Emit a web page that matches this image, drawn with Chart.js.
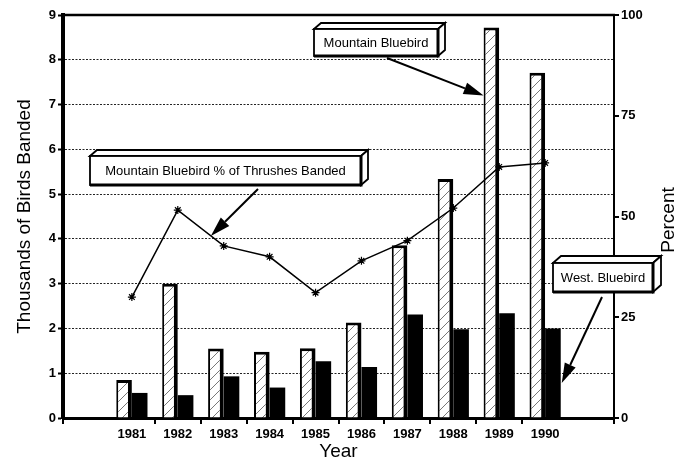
<!DOCTYPE html>
<html>
<head>
<meta charset="utf-8">
<script src="https://cdn.jsdelivr.net/npm/chart.js@4.4.1/dist/chart.umd.min.js"></script>
<style>
  html, body { margin: 0; padding: 0; background: #fff; }
  #wrap { width: 684px; height: 461px; }
</style>
</head>
<body>
<div id="wrap"><canvas id="birdChart" width="684" height="461"></canvas></div>
<script>
// categories (empty slot at each end, as in the original plot)
const years = ["", "1981", "1982", "1983", "1984", "1985", "1986", "1987", "1988", "1989", "1990", ""];

// thousands of birds banded
const mountainBluebird = [null, 0.85, 3.0, 1.55, 1.48, 1.56, 2.13, 3.86, 5.34, 8.72, 7.71, null];
const westernBluebird = [null, 0.56, 0.51, 0.93, 0.68, 1.27, 1.14, 2.31, 1.98, 2.34, 2.0, null];

// mountain bluebird as % of thrushes banded (right axis)
const percentThrushes = [null, 30.0, 51.6, 42.7, 40.0, 31.1, 39.0, 44.0, 52.1, 62.3, 63.3, null];

const leftMax = 9;
const rightTicks = [0, 25, 50, 75, 100];

const FONT = "'Liberation Sans', Arial, Helvetica, sans-serif";
const canvas = document.getElementById("birdChart");
const mainCtx = canvas.getContext("2d");

// diagonal hatch used for the mountain bluebird bars
function makeHatch() {
  const n = 10;
  const tile = document.createElement("canvas");
  tile.width = n;
  tile.height = n;
  const g = tile.getContext("2d");
  g.fillStyle = "#fff";
  g.fillRect(0, 0, n, n);
  g.strokeStyle = "#555";
  g.lineWidth = 0.8;
  g.beginPath();
  g.moveTo(-1, n + 1);
  g.lineTo(n + 1, -1);
  g.moveTo(-n / 2 - 1, n / 2 + 1);
  g.lineTo(n / 2 + 1, -n / 2 - 1);
  g.moveTo(n / 2 - 1, n * 1.5 + 1);
  g.lineTo(n * 1.5 + 1, n / 2 - 1);
  g.stroke();
  return mainCtx.createPattern(tile, "repeat");
}

function drawBox(ctx, x, y, w, h, d, text) {
  ctx.save();
  ctx.strokeStyle = "#000";
  ctx.fillStyle = "#fff";
  ctx.lineWidth = 1.8;
  // top face
  ctx.beginPath();
  ctx.moveTo(x, y);
  ctx.lineTo(x + d, y - d + 1);
  ctx.lineTo(x + w + d, y - d + 1);
  ctx.lineTo(x + w, y);
  ctx.closePath();
  ctx.fill();
  ctx.stroke();
  // side face
  ctx.beginPath();
  ctx.moveTo(x + w, y);
  ctx.lineTo(x + w + d, y - d + 1);
  ctx.lineTo(x + w + d, y + h - d + 1);
  ctx.lineTo(x + w, y + h);
  ctx.closePath();
  ctx.fill();
  ctx.stroke();
  // front
  ctx.fillRect(x, y, w, h);
  ctx.strokeRect(x, y, w, h);
  ctx.lineWidth = 3;
  ctx.beginPath();
  ctx.moveTo(x, y + h);
  ctx.lineTo(x + w, y + h);
  ctx.lineTo(x + w, y);
  ctx.stroke();

  ctx.fillStyle = "#000";
  ctx.font = "13px " + FONT;
  ctx.textAlign = "center";
  ctx.textBaseline = "middle";
  ctx.fillText(text, x + w / 2, y + h / 2 + 1);
  ctx.restore();
}

function drawArrow(ctx, x1, y1, x2, y2) {
  const ang = Math.atan2(y2 - y1, x2 - x1);
  const len = 20, half = 6;
  const bx = x2 - len * Math.cos(ang);
  const by = y2 - len * Math.sin(ang);
  ctx.save();
  ctx.strokeStyle = "#000";
  ctx.fillStyle = "#000";
  ctx.lineWidth = 2;
  ctx.beginPath();
  ctx.moveTo(x1, y1);
  ctx.lineTo(bx, by);
  ctx.stroke();
  ctx.beginPath();
  ctx.moveTo(x2, y2);
  ctx.lineTo(bx + half * Math.sin(ang), by - half * Math.cos(ang));
  ctx.lineTo(bx - half * Math.sin(ang), by + half * Math.cos(ang));
  ctx.closePath();
  ctx.fill();
  ctx.restore();
}

const calloutPlugin = {
  id: "callouts",
  afterDatasetsDraw(chart) {
    const { ctx, chartArea, scales } = chart;

    // top frame line
    ctx.save();
    ctx.strokeStyle = "#000";
    ctx.lineWidth = 2.5;
    ctx.beginPath();
    ctx.moveTo(chartArea.left, chartArea.top);
    ctx.lineTo(chartArea.right + 1, chartArea.top);
    ctx.stroke();
    ctx.restore();

    const lineMeta = chart.getDatasetMeta(0);
    const mbMeta = chart.getDatasetMeta(1);
    const wbMeta = chart.getDatasetMeta(2);

    // Mountain Bluebird -> left edge of 1989 bar
    const b89 = mbMeta.data[9];
    drawArrow(ctx, 387, 58, b89.x - b89.width / 2, scales.y.getPixelForValue(7.2));
    drawBox(ctx, 314, 29, 124, 27, 7, "Mountain Bluebird");

    // percent callout -> line segment 1982-1983
    const p1 = lineMeta.data[2], p2 = lineMeta.data[3];
    const t = 0.72;
    drawArrow(ctx, 258, 189, p1.x + (p2.x - p1.x) * t, p1.y + (p2.y - p1.y) * t);
    drawBox(ctx, 90, 156, 271, 29, 7, "Mountain Bluebird % of Thrushes Banded");

    // West. Bluebird -> 1990 black bar
    const w90 = wbMeta.data[10];
    drawArrow(ctx, 602, 297, w90.x + w90.width / 2 + 1, scales.y.getPixelForValue(0.78));
    drawBox(ctx, 553, 263, 100, 29, 8, "West. Bluebird");

    // right axis title
    ctx.save();
    ctx.fillStyle = "#000";
    ctx.font = "19px " + FONT;
    ctx.textAlign = "center";
    ctx.textBaseline = "middle";
    ctx.translate(669, 220);
    ctx.rotate(-Math.PI / 2);
    ctx.fillText("Percent", 0, 0);
    ctx.restore();
  }
};

const hatch = makeHatch();

new Chart(canvas, {
  data: {
    labels: years,
    datasets: [
      {
        type: "line",
        label: "Mountain Bluebird % of Thrushes Banded",
        data: percentThrushes,
        yAxisID: "y2",
        borderColor: "#000",
        borderWidth: 1.5,
        pointStyle: "star",
        pointRadius: 4,
        pointBorderWidth: 1.2,
        pointBorderColor: "#000",
        pointBackgroundColor: "#000",
        tension: 0,
        order: 0,
      },
      {
        type: "bar",
        label: "Mountain Bluebird",
        data: mountainBluebird,
        yAxisID: "y",
        backgroundColor: hatch,
        borderColor: "#000",
        borderWidth: { top: 3, right: 4, left: 2, bottom: 0 },
        barPercentage: 1,
        categoryPercentage: 0.68,
        order: 1,
      },
      {
        type: "bar",
        label: "West. Bluebird",
        data: westernBluebird,
        yAxisID: "y",
        backgroundColor: "#000",
        borderWidth: 0,
        barPercentage: 1,
        categoryPercentage: 0.68,
        order: 1,
      },
    ],
  },
  options: {
    responsive: false,
    animation: false,
    layout: { padding: { top: 15, left: 0, right: 0, bottom: 0 } },
    plugins: {
      legend: { display: false },
      tooltip: { enabled: false },
    },
    scales: {
      x: {
        afterFit: (s) => { s.height = 43; },
        grid: {
          drawOnChartArea: false,
          tickLength: 6,
          lineWidth: 2,
          tickColor: (c) => (c.index === 1 || c.index === 11 ? "rgba(0,0,0,0)" : "#000"),
        },
        border: { display: true, color: "#000", width: 3 },
        ticks: {
          color: "#000",
          font: { family: FONT, size: 13, weight: "bold" },
          padding: 3,
          maxRotation: 0,
          autoSkip: false,
        },
        title: {
          display: true,
          text: "Year",
          color: "#000",
          font: { family: FONT, size: 19, lineHeight: 1 },
          padding: { top: 0, bottom: 0 },
        },
      },
      y: {
        position: "left",
        min: 0,
        max: leftMax,
        afterFit: (s) => { s.width = 63; },
        ticks: {
          stepSize: 1,
          color: "#000",
          font: { family: FONT, size: 13, weight: "bold" },
          padding: 2,
        },
        grid: {
          color: (c) => (c.tick && (c.tick.value === 0 || c.tick.value === leftMax) ? "rgba(0,0,0,0)" : "#222"),
          lineWidth: 1,
          tickColor: "#000",
          tickLength: 5,
          tickWidth: 2,
          tickBorderDash: [],
        },
        border: { display: true, color: "#000", width: 4, dash: [2, 1.5] },
        title: {
          display: true,
          text: "Thousands of Birds Banded",
          color: "#000",
          font: { family: FONT, size: 19, lineHeight: 1.2 },
          padding: { top: 13, bottom: 0 },
        },
      },
      y2: {
        position: "right",
        min: 0,
        max: 100,
        afterFit: (s) => { s.width = 70; },
        afterBuildTicks: (s) => { s.ticks = rightTicks.map((v) => ({ value: v })); },
        ticks: {
          color: "#000",
          font: { family: FONT, size: 13, weight: "bold" },
          padding: 2,
        },
        grid: {
          drawOnChartArea: false,
          tickColor: "#000",
          tickLength: 5,
          lineWidth: 2,
        },
        border: { display: true, color: "#000", width: 2 },
      },
    },
  },
  plugins: [calloutPlugin],
});
</script>
</body>
</html>
